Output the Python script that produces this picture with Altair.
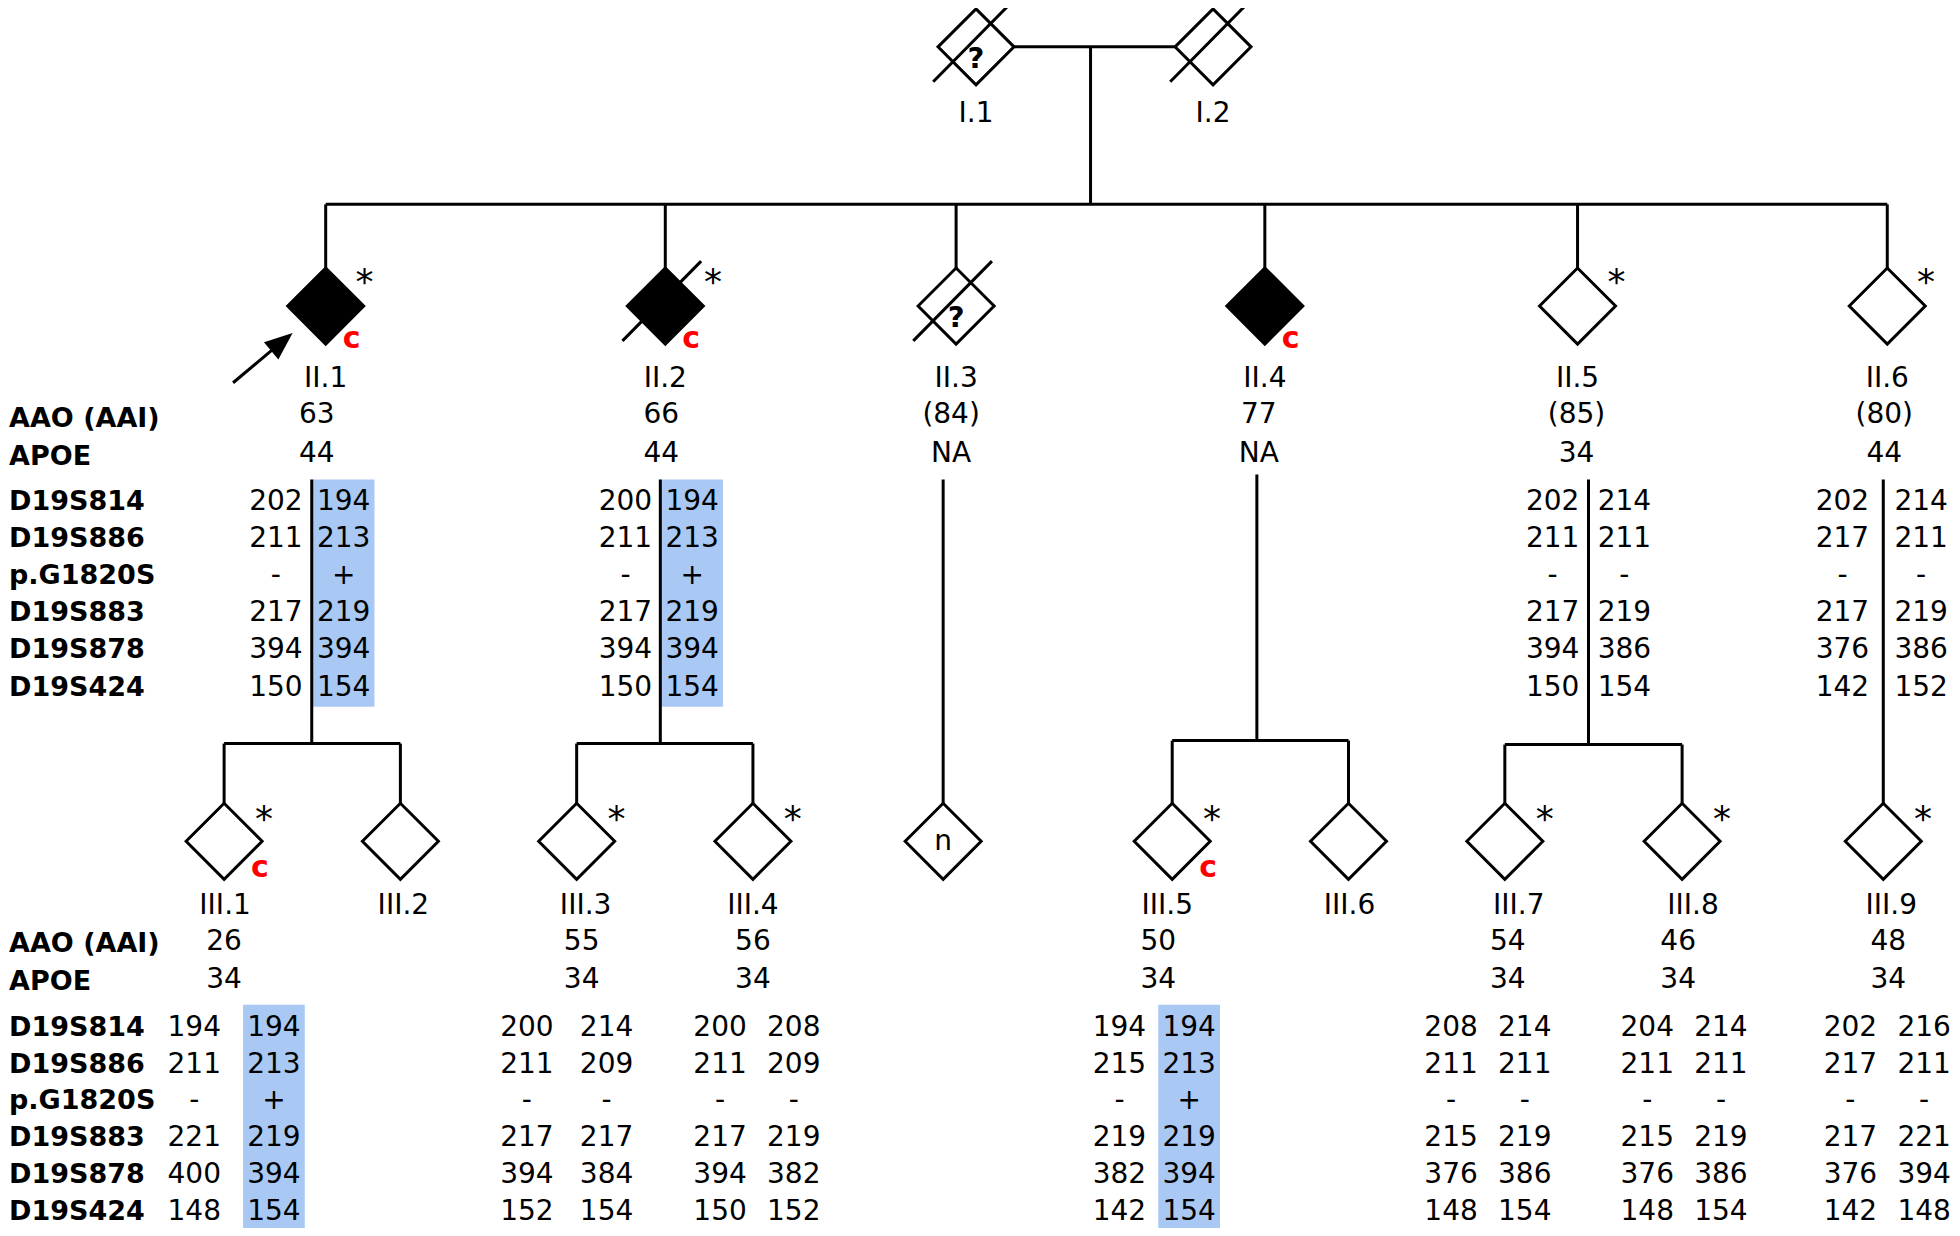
import altair as alt
import pandas as pd

# ------------------------------------------------------------------
# Pedigree data
# ------------------------------------------------------------------
markers = ["D19S814", "D19S886", "p.G1820S", "D19S883", "D19S878", "D19S424"]
row_titles = ["AAO (AAI)", "APOE"] + markers

gen1_ids = ["I.1", "I.2"]
gen1_unknown = [1, 0]          # "?" inside symbol
gen1_deceased = [1, 1]

gen2_ids = ["II.1", "II.2", "II.3", "II.4", "II.5", "II.6"]
gen2_affected = [1, 1, 0, 1, 0, 0]
gen2_deceased = [0, 1, 1, 0, 0, 0]
gen2_sampled = [1, 1, 0, 0, 1, 1]       # asterisk
gen2_carrier = [1, 1, 0, 1, 0, 0]       # red "c"
gen2_unknown = [0, 0, 1, 0, 0, 0]
gen2_aao = ["63", "66", "(84)", "77", "(85)", "(80)"]
gen2_apoe = ["44", "44", "NA", "NA", "34", "44"]

gen3_ids = ["III.1", "III.2", "III.3", "III.4", "", "III.5", "III.6", "III.7", "III.8", "III.9"]
gen3_inside = ["", "", "", "", "n", "", "", "", "", ""]
gen3_parent = ["II.1", "II.1", "II.2", "II.2", "II.3", "II.4", "II.4", "II.5", "II.5", "II.6"]
gen3_sampled = [1, 0, 1, 1, 0, 1, 0, 1, 1, 1]
gen3_carrier = [1, 0, 0, 0, 0, 1, 0, 0, 0, 0]
gen3_aao = ["26", "", "55", "56", "", "50", "", "54", "46", "48"]
gen3_apoe = ["34", "", "34", "34", "", "34", "", "34", "34", "34"]

proband = "II.1"

hap_II1_a = ["202", "211", "-", "217", "394", "150"]
hap_II1_b = ["194", "213", "+", "219", "394", "154"]
hap_II2_a = ["200", "211", "-", "217", "394", "150"]
hap_II2_b = ["194", "213", "+", "219", "394", "154"]
hap_II5_a = ["202", "211", "-", "217", "394", "150"]
hap_II5_b = ["214", "211", "-", "219", "386", "154"]
hap_II6_a = ["202", "217", "-", "217", "376", "142"]
hap_II6_b = ["214", "211", "-", "219", "386", "152"]

hap_III1_a = ["194", "211", "-", "221", "400", "148"]
hap_III1_b = ["194", "213", "+", "219", "394", "154"]
hap_III3_a = ["200", "211", "-", "217", "394", "152"]
hap_III3_b = ["214", "209", "-", "217", "384", "154"]
hap_III4_a = ["200", "211", "-", "217", "394", "150"]
hap_III4_b = ["208", "209", "-", "219", "382", "152"]
hap_III5_a = ["194", "215", "-", "219", "382", "142"]
hap_III5_b = ["194", "213", "+", "219", "394", "154"]
hap_III7_a = ["208", "211", "-", "215", "376", "148"]
hap_III7_b = ["214", "211", "-", "219", "386", "154"]
hap_III8_a = ["204", "211", "-", "215", "376", "148"]
hap_III8_b = ["214", "211", "-", "219", "386", "154"]
hap_III9_a = ["202", "217", "-", "217", "376", "142"]
hap_III9_b = ["216", "211", "-", "221", "394", "148"]

haplotypes = {
    "II.1": (hap_II1_a, hap_II1_b), "II.2": (hap_II2_a, hap_II2_b),
    "II.5": (hap_II5_a, hap_II5_b), "II.6": (hap_II6_a, hap_II6_b),
    "III.1": (hap_III1_a, hap_III1_b), "III.3": (hap_III3_a, hap_III3_b),
    "III.4": (hap_III4_a, hap_III4_b), "III.5": (hap_III5_a, hap_III5_b),
    "III.7": (hap_III7_a, hap_III7_b), "III.8": (hap_III8_a, hap_III8_b),
    "III.9": (hap_III9_a, hap_III9_b),
}
risk_haplotype_carriers = ["II.1", "II.2", "III.1", "III.5"]   # shaded (second) haplotype

# ------------------------------------------------------------------
# Layout (drawing coordinates = page pixels)
# ------------------------------------------------------------------
W, H = 1944, 1220           # plot area (page has an 8px margin)
DX = (8, 1960)              # drawing extent shown horizontally
DY = (8, 1232)              # drawing extent shown vertically
R = 38                      # diamond half-diagonal
SW = 3                      # line width

X_I = [980, 1218]
Y_I = 47
X_I_DESCENT = 1095
Y_SIB_II = 205
X_II = [327, 668, 960, 1270, 1584, 1895]
Y_II = 307
X_II_HAPLINE = [313, 663, 947, 1262, 1595, 1891]
Y_II_HAPLINE_TOP = [481, 481, 481, 476, 481, 481]
X_II_TEXT = [318, 664, 955, 1264, 1583, 1892]
II_COL_L = {"II.1": 277, "II.2": 628, "II.5": 1559, "II.6": 1850}
II_COL_R = {"II.1": 345, "II.2": 695, "II.5": 1631, "II.6": 1929}
Y_II_LABEL, Y_II_AAO, Y_II_APOE = 378, 414, 453
Y_II_ROWS = [502, 539, 576, 613, 650, 688]
Y_II_TITLES = [418, 456] + Y_II_ROWS
Y_II_SHADE = (481, 709)

Y_SIB_III = [746, 746, 947, 743, 747, 0]
X_III = [225, 402, 579, 756, 947, 1177, 1354, 1511, 1689, 1891]
Y_III = 844
X_III_LABEL = [226, 405, 588, 756, 0, 1172, 1355, 1525, 1700, 1899]
X_III_TEXT = [225, 0, 584, 756, 0, 1163, 0, 1514, 1685, 1896]
III_COL_L = {"III.1": 195, "III.3": 529, "III.4": 723, "III.5": 1124,
             "III.7": 1457, "III.8": 1654, "III.9": 1858}
III_COL_R = {"III.1": 275, "III.3": 609, "III.4": 797, "III.5": 1194,
             "III.7": 1531, "III.8": 1728, "III.9": 1932}
Y_III_LABEL, Y_III_AAO, Y_III_APOE = 907, 943, 981
Y_III_ROWS = [1029, 1066, 1103, 1140, 1177, 1214]
Y_III_TITLES = [945, 983] + Y_III_ROWS
Y_III_SHADE = (1008, 1236)
SHADE_HALF = 31
X_TITLES = 9

FONT = "DejaVu Sans"
BLUE = "#A9C9F4"

# ------------------------------------------------------------------
# Build tables
# ------------------------------------------------------------------
segs = []
segs.append((X_I[0] + R, Y_I, X_I[1] - R, Y_I))
segs.append((X_I_DESCENT, Y_I, X_I_DESCENT, Y_SIB_II))
segs.append((X_II[0], Y_SIB_II, X_II[-1], Y_SIB_II))
for x in X_II:
    segs.append((x, Y_SIB_II, x, Y_II - R))
for i, pid in enumerate(gen2_ids):
    kids = [j for j, p in enumerate(gen3_parent) if p == pid]
    lx = X_II_HAPLINE[i]
    top = Y_II_HAPLINE_TOP[i]
    if len(kids) == 1:
        segs.append((lx, top, lx, Y_III - R))
    else:
        ys = Y_SIB_III[i]
        segs.append((lx, top, lx, ys))
        kx = [X_III[j] for j in kids]
        segs.append((min(kx), ys, max(kx), ys))
        for x in kx:
            segs.append((x, ys, x, Y_III - R))
seg_df = pd.DataFrame(segs, columns=["x", "y", "x2", "y2"])

slash = []
for x, d in zip(X_I, gen1_deceased):
    if d:
        slash.append((x - 43, Y_I + 35, x + 36, Y_I - 45))
for x, d in zip(X_II, gen2_deceased):
    if d:
        slash.append((x - 43, Y_II + 35, x + 36, Y_II - 45))
slash_df = pd.DataFrame(slash, columns=["x", "y", "x2", "y2"])

pi = gen2_ids.index(proband)
px, py = X_II[pi], Y_II
tip = (px - 34, py + 27)
tail = (px - 93, py + 77)
arrow_shaft = pd.DataFrame([(tail[0], tail[1], tip[0] - 9, tip[1] + 8)], columns=["x", "y", "x2", "y2"])
arrow_head = pd.DataFrame([(tip[0] - 10, tip[1] + 9)], columns=["x", "y"])

sym = []
for x in X_I:
    sym.append((x, Y_I, 0))
for x, a in zip(X_II, gen2_affected):
    sym.append((x, Y_II, a))
for x in X_III:
    sym.append((x, Y_III, 0))
sym_df = pd.DataFrame(sym, columns=["x", "y", "aff"])

shade = []
for pid in risk_haplotype_carriers:
    if pid in II_COL_R:
        c = II_COL_R[pid]; y1, y2 = Y_II_SHADE
    else:
        c = III_COL_R[pid]; y1, y2 = Y_III_SHADE
    shade.append((c - SHADE_HALF, y1, c + SHADE_HALF, y2))
shade_df = pd.DataFrame(shade, columns=["x", "y", "x2", "y2"])

plain = []
for x, lab in zip(X_I, gen1_ids):
    plain.append((x, 112, lab))
for i, pid in enumerate(gen2_ids):
    plain.append((X_II[i], Y_II_LABEL, pid))
    plain.append((X_II_TEXT[i], Y_II_AAO, gen2_aao[i]))
    plain.append((X_II_TEXT[i], Y_II_APOE, gen2_apoe[i]))
    if pid in haplotypes:
        a, b = haplotypes[pid]
        for k in range(len(markers)):
            plain.append((II_COL_L[pid], Y_II_ROWS[k], a[k]))
            plain.append((II_COL_R[pid], Y_II_ROWS[k], b[k]))
for i, pid in enumerate(gen3_ids):
    if pid:
        plain.append((X_III_LABEL[i], Y_III_LABEL, pid))
    if gen3_inside[i]:
        plain.append((X_III[i], Y_III - 1, gen3_inside[i]))
    if gen3_aao[i]:
        plain.append((X_III_TEXT[i], Y_III_AAO, gen3_aao[i]))
        plain.append((X_III_TEXT[i], Y_III_APOE, gen3_apoe[i]))
    if pid in haplotypes:
        a, b = haplotypes[pid]
        for k in range(len(markers)):
            plain.append((III_COL_L[pid], Y_III_ROWS[k], a[k]))
            plain.append((III_COL_R[pid], Y_III_ROWS[k], b[k]))
plain_df = pd.DataFrame(plain, columns=["x", "y", "t"])

titles = []
for ys in (Y_II_TITLES, Y_III_TITLES):
    for y, t in zip(ys, row_titles):
        titles.append((X_TITLES, y, t))
titles_df = pd.DataFrame(titles, columns=["x", "y", "t"])

stars = []
for i, s in enumerate(gen2_sampled):
    if s:
        stars.append((X_II[i] + 39 + 9 * gen2_deceased[i], Y_II - 32, "*"))
for i, s in enumerate(gen3_sampled):
    if s:
        stars.append((X_III[i] + 40, Y_III - 30, "*"))
stars_df = pd.DataFrame(stars, columns=["x", "y", "t"])

cs = []
for i, c in enumerate(gen2_carrier):
    if c:
        cs.append((X_II[i] + 26, Y_II + 33, "c"))
for i, c in enumerate(gen3_carrier):
    if c:
        cs.append((X_III[i] + 36, Y_III + 27, "c"))
cs_df = pd.DataFrame(cs, columns=["x", "y", "t"])

q = []
for x, u in zip(X_I, gen1_unknown):
    if u:
        q.append((x, Y_I + 11, "?"))
for x, u in zip(X_II, gen2_unknown):
    if u:
        q.append((x, Y_II + 11, "?"))
q_df = pd.DataFrame(q, columns=["x", "y", "t"])

# ------------------------------------------------------------------
# Chart
# ------------------------------------------------------------------
xs = alt.Scale(domain=list(DX), nice=False, zero=False)
ysc = alt.Scale(domain=list(DY), nice=False, zero=False, reverse=True)
X = alt.X("x:Q", scale=xs, axis=None)
Y = alt.Y("y:Q", scale=ysc, axis=None)


def rules(df, width=SW):
    return alt.Chart(df).mark_rule(color="black", strokeWidth=width).encode(
        x=X, y=Y, x2="x2:Q", y2="y2:Q")


def texts(df, size=28, weight="normal", color="black", align="center", dy=2):
    return alt.Chart(df).mark_text(font=FONT, fontSize=size, fontWeight=weight, color=color,
                                   align=align, baseline="middle", dy=dy).encode(
        x=X, y=Y, text="t:N")


shade_layer = alt.Chart(shade_df).mark_rect(color=BLUE).encode(x=X, y=Y, x2="x2:Q", y2="y2:Q")
line_layer = rules(seg_df)
sym_layer = alt.Chart(sym_df).mark_point(shape="diamond", size=(2 * R) ** 2, strokeWidth=SW,
                                         stroke="black", opacity=1).encode(
    x=X, y=Y,
    fill=alt.condition("datum.aff == 1", alt.value("black"), alt.value("white")))
slash_layer = rules(slash_df)
arrow_layer = rules(arrow_shaft)
head_layer = alt.Chart(arrow_head).mark_point(shape="M0,-1L0.8,1L-0.8,1Z", size=784, angle=50,
                                              filled=True, color="black", opacity=1).encode(x=X, y=Y)

chart = alt.layer(
    shade_layer, line_layer, sym_layer, slash_layer, arrow_layer, head_layer,
    texts(plain_df),
    texts(titles_df, size=27, weight="bold", align="left"),
    texts(stars_df, size=36, dy=9),
    texts(cs_df, size=30, weight="bold", color="#FF0000", dy=0),
    texts(q_df, size=29, weight="bold", dy=1),
).properties(
    width=W, height=H, padding=0, autosize=alt.AutoSizeParams(type="none"),
    background="white"
).configure_view(stroke=None)

chart.save("out.html", embed_options={"renderer": "svg", "actions": False})
